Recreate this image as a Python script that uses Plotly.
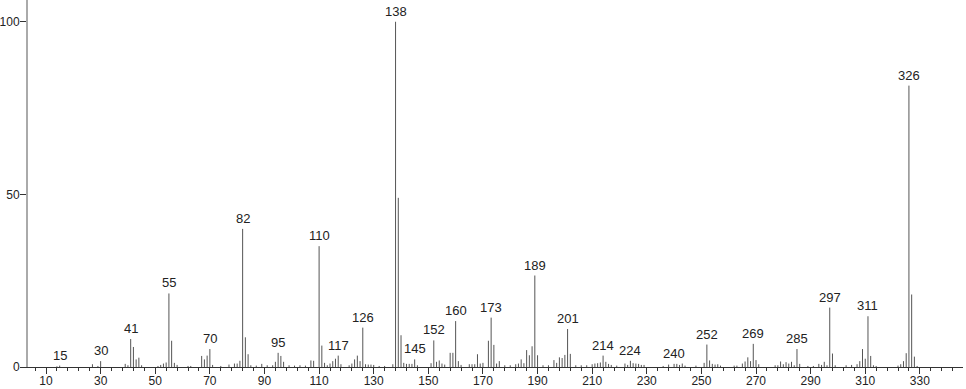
import plotly.graph_objects as go

# m/z values and relative intensities
mz = [14, 15, 27, 29, 30, 39, 40, 41, 42, 43, 44, 45,
      51, 52, 53, 54, 55, 56, 57, 58, 62, 63, 67, 68, 69, 70, 71, 74,
      77, 79, 80, 81, 82, 83, 84, 85, 87, 89, 91, 93, 94, 95, 96, 97,
      99, 101, 103, 105, 107, 108, 110, 111, 112, 113, 114, 115, 116, 117, 118,
      121, 122, 123, 124, 125, 126, 127, 128, 129, 130, 132, 134, 137, 138, 139,
      140, 141, 142, 143, 144, 145, 146, 151, 152, 153, 154, 155, 156, 158, 159,
      160, 161, 162, 165, 166, 167, 168, 169, 170, 172, 173, 174, 175, 176, 178,
      180, 182, 183, 184, 185, 186, 187, 188, 189, 190, 192, 194, 196, 197, 198,
      199, 200, 201, 202, 204, 206, 208, 210, 211, 212, 213, 214, 215, 216, 217,
      219, 222, 223, 224, 225, 226, 227, 228, 229, 236, 238, 240, 241, 242, 243,
      244, 248, 251, 252, 253, 254, 255, 256, 257, 262, 263, 265, 266, 267, 268,
      269, 270, 271, 277, 278, 279, 280, 281, 282, 283, 284, 285, 286, 289, 291,
      293, 294, 295, 296, 297, 298, 299, 303, 305, 307, 308, 309, 310, 311, 312,
      313, 314, 322, 323, 324, 325, 326, 327, 328, 329]
intensity = [0.2, 0.4, 0.8, 0.3, 1.7, 0.9, 0.5, 8.1, 5.8, 2.2, 2.7, 0.5,
             0.3, 0.6, 1.0, 1.3, 21.3, 7.6, 1.2, 0.6, 0.3, 0.3, 3.2, 2.2, 3.3, 5.2, 0.6, 0.3,
             0.7, 1.0, 1.0, 1.8, 40.0, 8.6, 3.7, 0.5, 0.4, 0.9, 0.5, 0.5, 1.5, 4.1, 3.2, 1.5,
             0.5, 0.4, 0.5, 0.4, 1.9, 1.8, 35.0, 6.2, 1.2, 0.5, 1.0, 1.7, 2.4, 3.3, 0.8,
             0.5, 1.0, 2.2, 3.3, 1.7, 11.4, 0.8, 0.7, 0.7, 0.6, 0.3, 0.3, 0.8, 100.0, 49.0,
             9.2, 1.2, 0.9, 0.9, 0.9, 2.2, 0.5, 1.1, 7.7, 1.5, 1.9, 1.0, 0.7, 4.1, 4.1,
             13.3, 1.7, 0.6, 0.8, 0.8, 0.8, 3.7, 1.0, 1.2, 7.6, 14.3, 6.4, 1.0, 1.7, 0.5,
             0.5, 0.8, 1.0, 2.2, 1.1, 4.9, 3.4, 6.0, 26.5, 3.4, 0.5, 0.5, 2.0, 1.2, 2.8,
             2.6, 3.5, 11.0, 3.8, 0.5, 0.5, 0.5, 0.8, 1.0, 1.1, 1.3, 3.3, 1.5, 0.9, 0.6,
             0.4, 1.0, 0.6, 1.8, 1.1, 1.0, 0.9, 0.6, 0.6, 0.3, 0.7, 0.9, 0.9, 0.6, 1.0,
             0.4, 0.4, 1.2, 6.5, 1.9, 0.9, 0.7, 0.8, 0.4, 0.4, 0.4, 1.0, 1.6, 2.8, 1.7,
             6.7, 2.0, 0.8, 0.5, 0.5, 1.6, 0.8, 1.4, 1.0, 1.5, 0.5, 5.2, 0.9, 0.3, 0.3,
             0.9, 0.6, 1.5, 0.5, 17.2, 3.9, 0.5, 0.5, 0.6, 0.8, 1.7, 5.2, 2.4, 14.7, 3.2,
             0.5, 0.3, 0.4, 0.8, 1.7, 4.0, 81.5, 21.0, 3.0, 0.3]

# labelled peaks
labelled_mz = [15, 30, 41, 55, 70, 82, 95, 110, 117, 126, 138, 145, 152, 160,
               173, 189, 201, 214, 224, 240, 252, 269, 285, 297, 311, 326]

x_ticks = [10, 30, 50, 70, 90, 110, 130, 150, 170, 190, 210, 230, 250, 270, 290, 310, 330]
y_ticks = [0, 50, 100]

xs, ys = [], []
for m, v in zip(mz, intensity):
    xs += [m, m, None]
    ys += [0, v, None]

fig = go.Figure()
fig.add_trace(go.Scatter(x=xs, y=ys, mode="lines",
                         line=dict(color="#555555", width=1),
                         hoverinfo="skip", showlegend=False))

lookup = dict(zip(mz, intensity))
for m in labelled_mz:
    fig.add_annotation(x=m, y=lookup[m], text=str(m), showarrow=False,
                       yanchor="bottom", yshift=1,
                       font=dict(family="Liberation Sans", size=13, color="#222222"))

fig.update_layout(
    width=966, height=389,
    margin=dict(l=28, r=3, t=0, b=22, autoexpand=False),
    paper_bgcolor="white", plot_bgcolor="white",
    font=dict(family="Liberation Sans", size=13, color="#222222"),
    showlegend=False,
)
fig.update_xaxes(range=[3.4, 345.8], tickvals=x_ticks, ticktext=[str(t) for t in x_ticks],
                 ticks="outside", ticklen=6, tickcolor="#333333", tickwidth=1,
                 tickfont=dict(size=12), ticklabelstandoff=-3,
                 minor=dict(ticks="outside", ticklen=3, tick0=10, dtick=4,
                            tickcolor="#333333", tickwidth=1),
                 showline=True, linecolor="#333333", linewidth=1,
                 showgrid=False, zeroline=False, automargin=False)
fig.update_yaxes(range=[0, 106.3], tickvals=y_ticks, ticktext=[str(t) for t in y_ticks],
                 ticks="outside", ticklen=6, tickcolor="#333333", tickwidth=1,
                 tickfont=dict(size=12), ticklabelstandoff=-2,
                 showline=True, linecolor="#aaaaaa", linewidth=2,
                 showgrid=False, zeroline=False, automargin=False)

fig.write_html("out.html")
